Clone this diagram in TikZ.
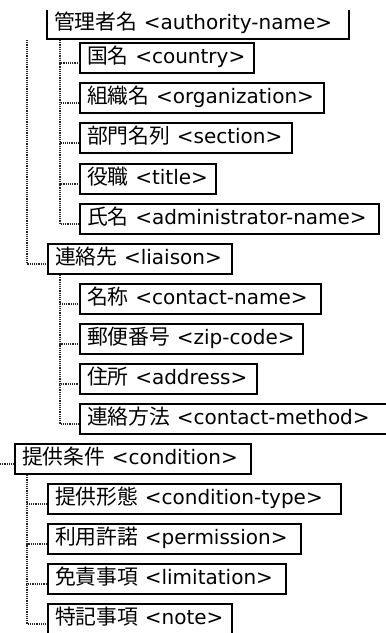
\documentclass[tikz,border=0pt]{standalone}
\usepackage{fontspec}
\setmainfont{DejaVu Sans}
\newfontfamily\jpfont[Scale=1.04]{Noto Sans CJK JP}
\newcommand{\ja}[1]{{\jpfont #1}}
\tikzset{
	elem/.style={draw, line width=2pt, anchor=north west, text width=#1,
		inner xsep=7pt, inner ysep=4pt, text height=16pt, text depth=6pt,
		font=\fontsize{20pt}{24pt}\selectfont},
	tree/.style={line width=1.2pt, densely dotted, black!85}
}
\begin{document}
\begin{tikzpicture}[x=1pt, y=-1pt]
	\useasboundingbox (0, 0) rectangle (386, 633);
	\clip (0, 0) rectangle (386, 633);
	% authority-name (top edge cut off)
	\begin{scope}
		\clip (0, 10) rectangle (386, 50);
		\node[elem=288pt] (authority) at (46, 8) {\mbox{\ja{管理者名} <authority-name>}};
	\end{scope}
	\node[elem=160pt] (country) at (79, 42) {\mbox{\ja{国名} <country>}};
	\node[elem=230pt] (organization) at (79, 82) {\mbox{\ja{組織名} <organization>}};
	\node[elem=198pt] (section) at (79, 122) {\mbox{\ja{部門名列} <section>}};
	\node[elem=122pt] (title) at (79, 163) {\mbox{\ja{役職} <title>}};
	\node[elem=285pt] (administrator) at (79, 203) {\mbox{\ja{氏名} <administrator-name>}};
	\node[elem=170pt] (liaison) at (47, 243) {\mbox{\ja{連絡先} <liaison>}};
	\node[elem=227pt] (contactname) at (79, 283) {\mbox{\ja{名称} <contact-name>}};
	\node[elem=209pt] (zipcode) at (79, 323) {\mbox{\ja{郵便番号} <zip-code>}};
	\node[elem=163pt] (address) at (79, 363) {\mbox{\ja{住所} <address>}};
	\node[elem=304pt] (contactmethod) at (79, 403) {\mbox{\ja{連絡方法} <contact-method>}};
	\node[elem=222pt] (condition) at (14, 443) {\mbox{\ja{提供条件} <condition>}};
	\node[elem=279pt] (conditiontype) at (47, 483) {\mbox{\ja{提供形態} <condition-type>}};
	\node[elem=239pt] (permission) at (47, 523) {\mbox{\ja{利用許諾} <permission>}};
	\node[elem=224pt] (limitation) at (47, 563) {\mbox{\ja{免責事項} <limitation>}};
	\node[elem=170pt] (note) at (47, 603) {\mbox{\ja{特記事項} <note>}};
	% tree lines
	\coordinate (top) at (27, 40);
	\coordinate (lead) at (0, 464);
	\draw[tree] (top) |- ([yshift=-5pt]liaison.west);
	\draw[tree] (lead) -- ([yshift=-5pt]condition.west);
	\foreach \child in {country, organization, section, title, administrator}
		\draw[tree] ([xshift=14pt]authority.south west) |- ([yshift=-5pt]\child.west);
	\foreach \child in {contactname, zipcode, address, contactmethod}
		\draw[tree] ([xshift=13pt]liaison.south west) |- ([yshift=-5pt]\child.west);
	\foreach \child in {conditiontype, permission, limitation, note}
		\draw[tree] ([xshift=13pt]condition.south west) |- ([yshift=-5pt]\child.west);
\end{tikzpicture}
\end{document}
